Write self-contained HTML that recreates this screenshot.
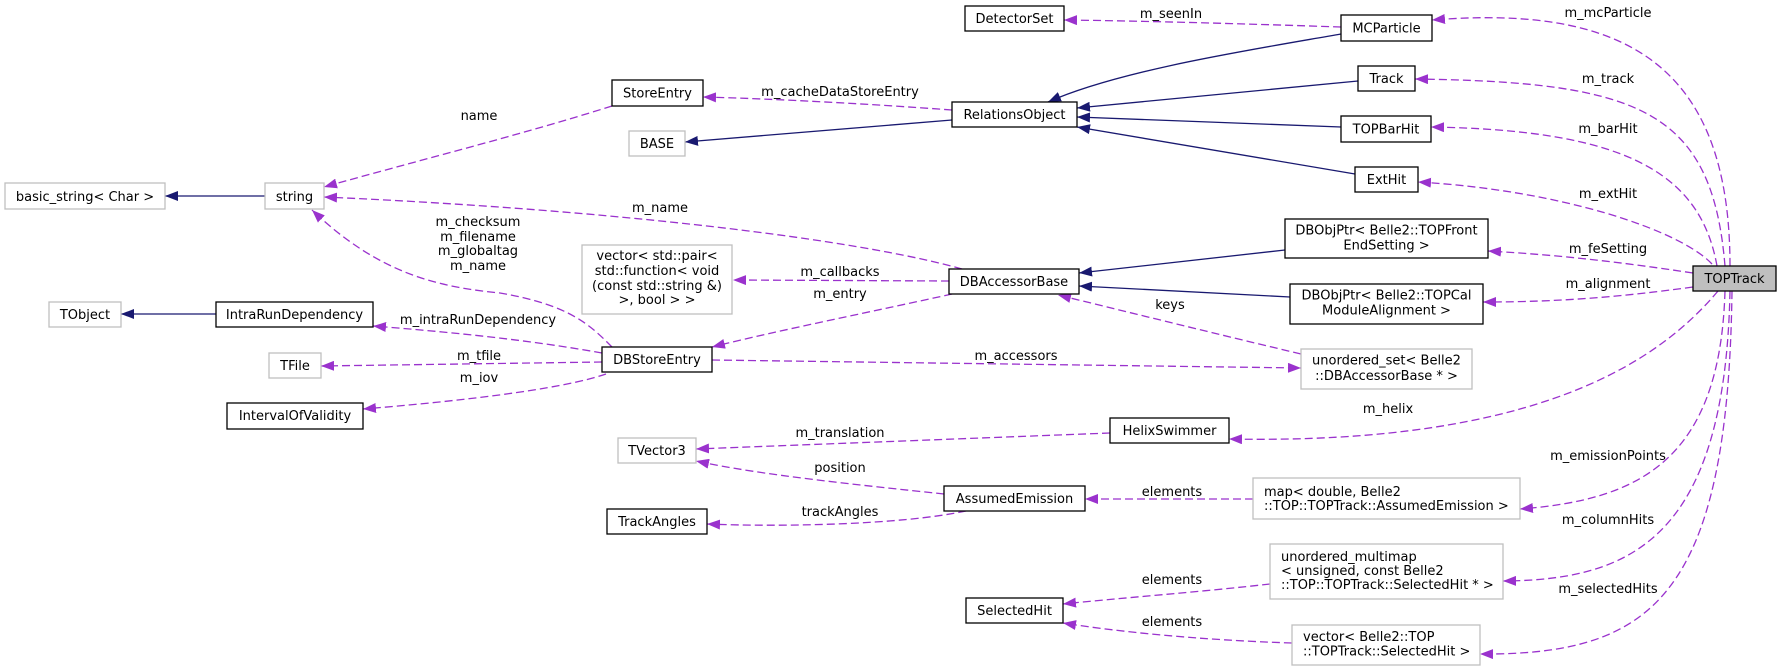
<!DOCTYPE html>
<html>
<head>
<meta charset="utf-8">
<style>
  html, body { margin: 0; padding: 0; background: #ffffff; }
  svg { display: block; }
  text { font-family: "DejaVu Sans", "Liberation Sans", sans-serif; font-size: 13px; fill: #000; }
  .nb { fill: #fff; stroke: #000; stroke-width: 1.3; }
  .ng { fill: #fff; stroke: #bfbfbf; stroke-width: 1.3; }
  .inh { fill: none; stroke: #191970; stroke-width: 1.3; }
  .use { fill: none; stroke: #9a32cd; stroke-width: 1.3; stroke-dasharray: 8,4; }
</style>
</head>
<body>
<svg width="1781" height="671" viewBox="0 0 1781 671" xmlns="http://www.w3.org/2000/svg">
  <defs>
    <marker id="an" viewBox="0 0 13 10" refX="13" refY="5" markerWidth="13" markerHeight="10" markerUnits="userSpaceOnUse" orient="auto">
      <path d="M0,0 L13,5 L0,10 z" fill="#191970"/>
    </marker>
    <marker id="ap" viewBox="0 0 13 10" refX="13" refY="5" markerWidth="13" markerHeight="10" markerUnits="userSpaceOnUse" orient="auto">
      <path d="M0,0 L13,5 L0,10 z" fill="#9a32cd"/>
    </marker>
  </defs>

  <!-- ===== inheritance edges (navy) ===== -->
  <path class="inh" marker-end="url(#an)" d="M265,196 L165,196"/>
  <path class="inh" marker-end="url(#an)" d="M216,314 L121,314"/>
  <path class="inh" marker-end="url(#an)" d="M952,120 L685,142"/>
  <path class="inh" marker-end="url(#an)" d="M1341,34 C1250,50 1120,70 1048,102"/>
  <path class="inh" marker-end="url(#an)" d="M1358,81 L1077,108"/>
  <path class="inh" marker-end="url(#an)" d="M1341,127 L1077,117"/>
  <path class="inh" marker-end="url(#an)" d="M1355,174 L1077,127"/>
  <path class="inh" marker-end="url(#an)" d="M1285,250 L1079,273"/>
  <path class="inh" marker-end="url(#an)" d="M1290,297 L1079,286"/>

  <!-- ===== usage edges (purple dashed) ===== -->
  <path class="use" marker-end="url(#ap)" d="M1341,27 C1250,24 1150,21 1064,20"/>
  <path class="use" marker-end="url(#ap)" d="M952,110 C870,104 780,99 703,97"/>
  <path class="use" marker-end="url(#ap)" d="M612,106 C520,135 420,160 324,187"/>
  <path class="use" marker-end="url(#ap)" d="M962,269 C860,240 620,210 324,197"/>
  <path class="use" marker-end="url(#ap)" d="M612,347 C590,325 570,305 500,293 C440,287 380,275 312,210"/>
  <path class="use" marker-end="url(#ap)" d="M949,281 L733,280"/>
  <path class="use" marker-end="url(#ap)" d="M952,294 C880,310 780,330 712,347"/>
  <path class="use" marker-end="url(#ap)" d="M602,353 C530,340 450,332 373,326"/>
  <path class="use" marker-end="url(#ap)" d="M602,362 L321,366"/>
  <path class="use" marker-end="url(#ap)" d="M606,374 C560,390 450,402 363,409"/>
  <path class="use" marker-end="url(#ap)" d="M712,360 L1301,368"/>
  <path class="use" marker-end="url(#ap)" d="M1301,354 C1200,330 1120,310 1058,295"/>
  <path class="use" marker-end="url(#ap)" d="M1110,433 L696,449"/>
  <path class="use" marker-end="url(#ap)" d="M944,494 C860,485 760,475 696,461"/>
  <path class="use" marker-end="url(#ap)" d="M966,511 C900,525 780,527 707,524"/>
  <path class="use" marker-end="url(#ap)" d="M1253,499 L1085,499"/>
  <path class="use" marker-end="url(#ap)" d="M1270,584 C1200,592 1120,598 1063,604"/>
  <path class="use" marker-end="url(#ap)" d="M1292,643 C1200,640 1120,632 1063,623"/>

  <!-- TOPTrack edges -->
  <path class="use" marker-end="url(#ap)" d="M1730,266 C1730,60 1620,5 1432,20"/>
  <path class="use" marker-end="url(#ap)" d="M1725,266 C1712,110 1640,82 1415,79"/>
  <path class="use" marker-end="url(#ap)" d="M1717,266 C1700,170 1620,130 1431,127"/>
  <path class="use" marker-end="url(#ap)" d="M1712,264 C1680,230 1560,190 1418,182"/>
  <path class="use" marker-end="url(#ap)" d="M1693,273 C1620,262 1560,255 1488,251"/>
  <path class="use" marker-end="url(#ap)" d="M1693,287 C1620,297 1560,302 1483,302"/>
  <path class="use" marker-end="url(#ap)" d="M1718,291 C1660,360 1540,445 1229,439"/>
  <path class="use" marker-end="url(#ap)" d="M1725,291 C1720,460 1640,500 1520,509"/>
  <path class="use" marker-end="url(#ap)" d="M1730,291 C1725,540 1630,580 1503,581"/>
  <path class="use" marker-end="url(#ap)" d="M1732,291 C1728,600 1650,655 1480,654"/>

  <!-- ===== nodes ===== -->
  <rect class="ng" x="5" y="183" width="160" height="26"/>
  <text x="85" y="201" text-anchor="middle">basic_string&lt; Char &gt;</text>

  <rect class="ng" x="265" y="183" width="59" height="26"/>
  <text x="294.5" y="201" text-anchor="middle">string</text>

  <rect class="ng" x="49" y="302" width="72" height="25"/>
  <text x="85" y="319" text-anchor="middle">TObject</text>

  <rect class="nb" x="216" y="302" width="157" height="25"/>
  <text x="294.5" y="319" text-anchor="middle">IntraRunDependency</text>

  <rect class="ng" x="269" y="353" width="52" height="25"/>
  <text x="295" y="370" text-anchor="middle">TFile</text>

  <rect class="nb" x="227" y="403" width="136" height="26"/>
  <text x="295" y="420" text-anchor="middle">IntervalOfValidity</text>

  <rect class="nb" x="965" y="6" width="99" height="25"/>
  <text x="1014.5" y="23" text-anchor="middle">DetectorSet</text>

  <rect class="nb" x="612" y="80" width="91" height="26"/>
  <text x="657.5" y="97.5" text-anchor="middle">StoreEntry</text>

  <rect class="ng" x="629" y="131" width="56" height="25"/>
  <text x="657" y="148" text-anchor="middle">BASE</text>

  <rect class="nb" x="952" y="102" width="125" height="25"/>
  <text x="1014.5" y="119" text-anchor="middle">RelationsObject</text>

  <rect class="ng" x="582" y="245" width="150" height="69"/>
  <text x="657" y="260" text-anchor="middle">vector&lt; std::pair&lt;</text>
  <text x="657" y="275" text-anchor="middle"> std::function&lt; void</text>
  <text x="657" y="290" text-anchor="middle">(const std::string &amp;)</text>
  <text x="657" y="304" text-anchor="middle">&gt;, bool &gt; &gt;</text>

  <rect class="nb" x="949" y="269" width="130" height="25"/>
  <text x="1014" y="286" text-anchor="middle">DBAccessorBase</text>

  <rect class="nb" x="602" y="347" width="110" height="25"/>
  <text x="657" y="364" text-anchor="middle">DBStoreEntry</text>

  <rect class="ng" x="618" y="438" width="78" height="25"/>
  <text x="657" y="455" text-anchor="middle">TVector3</text>

  <rect class="nb" x="607" y="509" width="100" height="25"/>
  <text x="657" y="526" text-anchor="middle">TrackAngles</text>

  <rect class="nb" x="944" y="486" width="141" height="25"/>
  <text x="1014.5" y="503" text-anchor="middle">AssumedEmission</text>

  <rect class="nb" x="966" y="598" width="97" height="25"/>
  <text x="1014.5" y="615" text-anchor="middle">SelectedHit</text>

  <rect class="nb" x="1341" y="15" width="91" height="26"/>
  <text x="1386.5" y="32.5" text-anchor="middle">MCParticle</text>

  <rect class="nb" x="1358" y="66" width="57" height="25"/>
  <text x="1386.5" y="83" text-anchor="middle">Track</text>

  <rect class="nb" x="1341" y="116" width="90" height="26"/>
  <text x="1386" y="133.5" text-anchor="middle">TOPBarHit</text>

  <rect class="nb" x="1355" y="167" width="63" height="25"/>
  <text x="1386.5" y="184" text-anchor="middle">ExtHit</text>

  <rect class="nb" x="1285" y="219" width="203" height="39"/>
  <text x="1386.5" y="234.5" text-anchor="middle">DBObjPtr&lt; Belle2::TOPFront</text>
  <text x="1386.5" y="249.5" text-anchor="middle">EndSetting &gt;</text>

  <rect class="nb" x="1290" y="284" width="193" height="40"/>
  <text x="1386.5" y="299.5" text-anchor="middle">DBObjPtr&lt; Belle2::TOPCal</text>
  <text x="1386.5" y="314.5" text-anchor="middle">ModuleAlignment &gt;</text>

  <rect class="ng" x="1301" y="349" width="171" height="40"/>
  <text x="1386.5" y="364.5" text-anchor="middle">unordered_set&lt; Belle2</text>
  <text x="1386.5" y="380" text-anchor="middle">::DBAccessorBase * &gt;</text>

  <rect class="nb" x="1110" y="418" width="119" height="25"/>
  <text x="1169.5" y="435" text-anchor="middle">HelixSwimmer</text>

  <rect class="ng" x="1253" y="478" width="267" height="41"/>
  <text x="1264" y="496">map&lt; double, Belle2</text>
  <text x="1264" y="510">::TOP::TOPTrack::AssumedEmission &gt;</text>

  <rect class="ng" x="1270" y="544" width="233" height="55"/>
  <text x="1281" y="561">unordered_multimap</text>
  <text x="1281" y="575">&lt; unsigned, const Belle2</text>
  <text x="1281" y="589">::TOP::TOPTrack::SelectedHit * &gt;</text>

  <rect class="ng" x="1292" y="625" width="188" height="40"/>
  <text x="1303" y="641">vector&lt; Belle2::TOP</text>
  <text x="1303" y="655.5">::TOPTrack::SelectedHit &gt;</text>

  <rect x="1693" y="266" width="83" height="25" fill="#bfbfbf" stroke="#000" stroke-width="1.3"/>
  <text x="1734.5" y="283" text-anchor="middle">TOPTrack</text>

  <!-- ===== edge labels ===== -->
  <text x="479" y="120" text-anchor="middle">name</text>
  <text x="478" y="226" text-anchor="middle">m_checksum</text>
  <text x="478" y="241" text-anchor="middle">m_filename</text>
  <text x="478" y="255" text-anchor="middle">m_globaltag</text>
  <text x="478" y="270" text-anchor="middle">m_name</text>
  <text x="478" y="324" text-anchor="middle">m_intraRunDependency</text>
  <text x="479" y="360" text-anchor="middle">m_tfile</text>
  <text x="479" y="382" text-anchor="middle">m_iov</text>
  <text x="840" y="96" text-anchor="middle">m_cacheDataStoreEntry</text>
  <text x="660" y="212" text-anchor="middle">m_name</text>
  <text x="840" y="276" text-anchor="middle">m_callbacks</text>
  <text x="840" y="298" text-anchor="middle">m_entry</text>
  <text x="1171" y="18" text-anchor="middle">m_seenIn</text>
  <text x="1608" y="17" text-anchor="middle">m_mcParticle</text>
  <text x="1608" y="83" text-anchor="middle">m_track</text>
  <text x="1608" y="133" text-anchor="middle">m_barHit</text>
  <text x="1608" y="198" text-anchor="middle">m_extHit</text>
  <text x="1608" y="253" text-anchor="middle">m_feSetting</text>
  <text x="1608" y="288" text-anchor="middle">m_alignment</text>
  <text x="1170" y="309" text-anchor="middle">keys</text>
  <text x="1016" y="360" text-anchor="middle">m_accessors</text>
  <text x="840" y="437" text-anchor="middle">m_translation</text>
  <text x="840" y="472" text-anchor="middle">position</text>
  <text x="840" y="516" text-anchor="middle">trackAngles</text>
  <text x="1388" y="413" text-anchor="middle">m_helix</text>
  <text x="1608" y="460" text-anchor="middle">m_emissionPoints</text>
  <text x="1172" y="496" text-anchor="middle">elements</text>
  <text x="1608" y="524" text-anchor="middle">m_columnHits</text>
  <text x="1172" y="584" text-anchor="middle">elements</text>
  <text x="1608" y="593" text-anchor="middle">m_selectedHits</text>
  <text x="1172" y="626" text-anchor="middle">elements</text>
</svg>
</body>
</html>
